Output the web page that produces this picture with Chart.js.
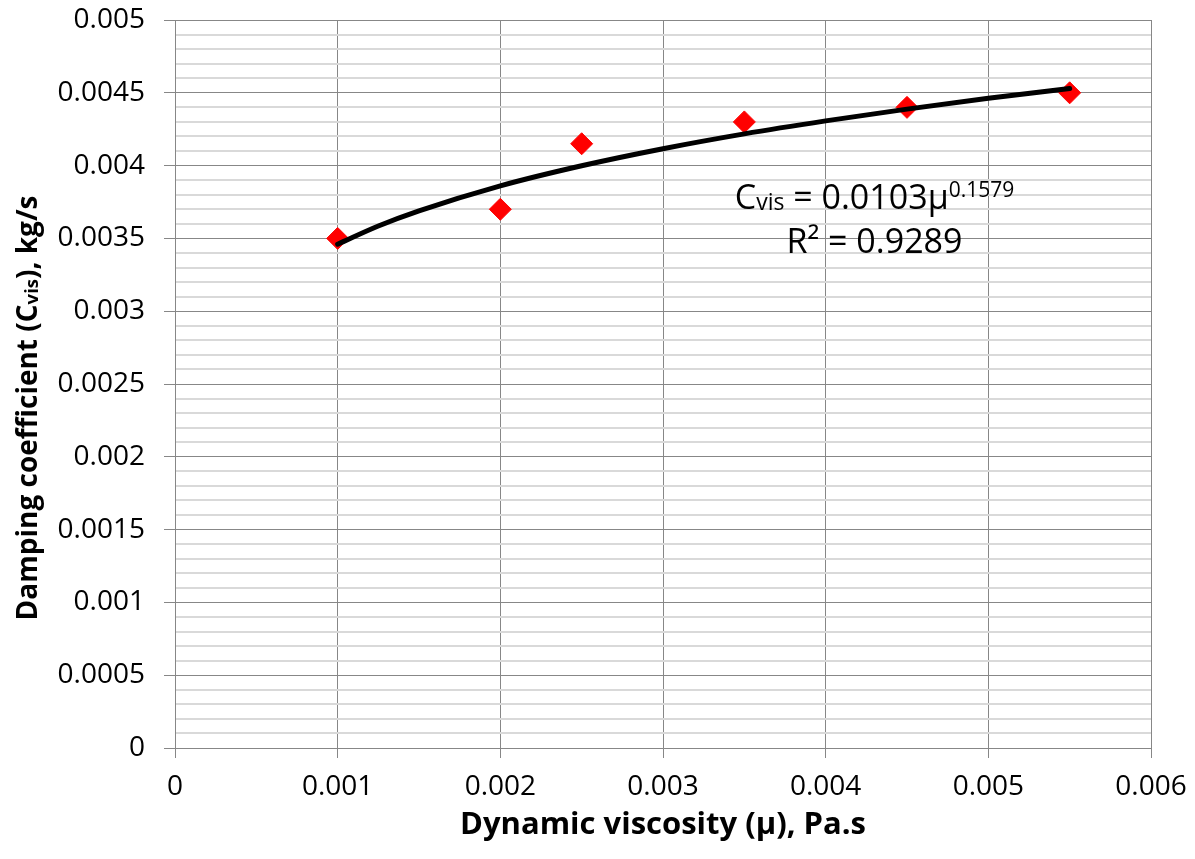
<!DOCTYPE html>
<html>
<head>
<meta charset="utf-8">
<script src="https://cdn.jsdelivr.net/npm/chart.js@4.4.1/dist/chart.umd.min.js"></script>
<style>
  html, body { margin: 0; padding: 0; background: #ffffff; }
  #wrap { width: 1195px; height: 859px; }
</style>
</head>
<body>
<div id="wrap"><canvas id="c" width="1195" height="859"></canvas></div>
<script>
// Measured data points: dynamic viscosity (Pa.s) vs damping coefficient (kg/s)
const viscosity = [0.001, 0.002, 0.0025, 0.0035, 0.0045, 0.0055];
const damping   = [0.0035, 0.0037, 0.00415, 0.0043, 0.0044, 0.0045];

// Power trendline (Cvis = 0.0103 μ^0.1579)
const trendX = [0.001, 0.00125, 0.0015, 0.002, 0.0025, 0.003, 0.0035, 0.004, 0.0045, 0.005, 0.0055];
const trendY = [0.00346, 0.003585, 0.003689, 0.003861, 0.003999, 0.004116, 0.004218, 0.004307, 0.004388, 0.004462, 0.00453];

// Axis ticks
const xTicks = [0, 0.001, 0.002, 0.003, 0.004, 0.005, 0.006];
const yTicks = [0, 0.0005, 0.001, 0.0015, 0.002, 0.0025, 0.003, 0.0035, 0.004, 0.0045, 0.005];

const xTitle = 'Dynamic viscosity (μ), Pa.s';
const yTitleParts = [['Damping coefficient (C', 'n'], ['vis', 's'], ['), kg/s', 'n']];
const eqLine1 = [['C', 'n'], ['vis', 's'], [' = 0.0103μ', 'n'], ['0.1579', 'p']];
const eqLine2 = [['R² = 0.9289', 'n']];

const FONT = "'Open Sans', 'Liberation Sans', sans-serif";

function isMajorY(v) {
  const r = v / 0.0005;
  return Math.abs(r - Math.round(r)) < 1e-6;
}

function fmt(v) {
  const r = Math.round(v * 1e5) / 1e5;
  return String(r);
}

const textPlugin = {
  id: 'textPlugin',
  afterDraw(chart) {
    const ctx = chart.ctx;
    const xs = chart.scales.x, ys = chart.scales.y;

    function drawParts(parts, x, y, sizes, bold) {
      let total = 0;
      parts.forEach(p => {
        ctx.font = (bold ? 'bold ' : '') + sizes[p[1]] + 'px ' + FONT;
        total += ctx.measureText(p[0]).width;
      });
      let cx = x - total / 2;
      parts.forEach(p => {
        ctx.font = (bold ? 'bold ' : '') + sizes[p[1]] + 'px ' + FONT;
        let dy = 0;
        if (p[1] === 'p') dy = -sizes.n * 0.36;
        if (p[1] === 's') dy = sizes.n * 0.02;
        ctx.fillText(p[0], cx, y + dy);
        cx += ctx.measureText(p[0]).width;
      });
    }

    ctx.save();
    ctx.fillStyle = '#000000';
    ctx.textBaseline = 'alphabetic';
    ctx.textAlign = 'left';

    // Equation annotation (anchored in data space)
    const ax = xs.getPixelForValue(0.0043);
    const ay1 = ys.getPixelForValue(0.0037);
    const ay2 = ys.getPixelForValue(0.0034);
    drawParts(eqLine1, ax, ay1, { n: 34, s: 23, p: 21 }, false);
    drawParts(eqLine2, ax, ay2, { n: 34, s: 23, p: 21 }, false);

    // Rotated y-axis title
    ctx.save();
    const midY = (ys.top + ys.bottom) / 2 + 24;
    ctx.translate(37, midY);
    ctx.rotate(-Math.PI / 2);
    drawParts(yTitleParts, 0, 0, { n: 28, s: 18.5, p: 18.5 }, true);
    ctx.restore();

    ctx.restore();
  }
};

new Chart(document.getElementById('c'), {
  type: 'scatter',
  data: {
    datasets: [
      {
        type: 'line',
        label: 'Trend',
        data: trendX.map((x, i) => ({ x: x, y: trendY[i] })),
        borderColor: '#000000',
        borderWidth: 5,
        pointRadius: 0,
        fill: false,
        tension: 0.4,
        cubicInterpolationMode: 'monotone',
        borderCapStyle: 'round'
      },
      {
        label: 'Data',
        data: viscosity.map((x, i) => ({ x: x, y: damping[i] })),
        pointStyle: 'rectRot',
        pointRadius: 11,
        pointHoverRadius: 11,
        backgroundColor: '#ff0000',
        borderColor: '#ff0000',
        borderWidth: 1,
        showLine: false
      }
    ]
  },
  options: {
    responsive: false,
    animation: false,
    events: [],
    layout: { padding: { left: 0, right: 44, top: 20, bottom: 0 } },
    plugins: {
      legend: { display: false },
      tooltip: { enabled: false },
      title: { display: false }
    },
    scales: {
      x: {
        type: 'linear',
        min: 0,
        max: 0.006,
        afterBuildTicks(scale) { scale.ticks = xTicks.map(v => ({ value: v })); },
        afterFit(scale) {
          scale.height = 111;
          scale.paddingLeft = 0;
          scale.paddingRight = 0;
        },
        ticks: {
          autoSkip: false,
          padding: 12,
          color: '#000000',
          font: { family: FONT, size: 28 },
          callback: (v) => fmt(v)
        },
        grid: {
          color: '#878787',
          lineWidth: 1,
          tickLength: 10,
          tickColor: '#878787'
        },
        border: { color: '#878787', width: 1 },
        title: {
          display: true,
          text: xTitle,
          color: '#000000',
          font: { family: FONT, size: 31, weight: 'bold' },
          padding: { top: 0, bottom: 15 }
        }
      },
      y: {
        type: 'linear',
        min: 0,
        max: 0.005,
        afterBuildTicks(scale) {
          const t = [];
          for (let i = 0; i <= 50; i++) t.push({ value: i / 10000 });
          scale.ticks = t;
        },
        afterFit(scale) {
          scale.width = 175;
          scale.paddingTop = 0;
          scale.paddingBottom = 0;
        },
        ticks: {
          autoSkip: false,
          padding: 19,
          color: '#000000',
          font: { family: FONT, size: 28 },
          callback: (v) => (isMajorY(v) && yTicks.some(t => Math.abs(t - v) < 1e-9)) ? fmt(v) : ''
        },
        grid: {
          color: (ctx) => (ctx.tick && isMajorY(ctx.tick.value)) ? '#878787' : '#d9d9d9',
          lineWidth: (ctx) => (ctx.tick && isMajorY(ctx.tick.value)) ? 1 : 2,
          tickLength: 11,
          tickColor: (ctx) => (ctx.tick && isMajorY(ctx.tick.value)) ? '#878787' : 'rgba(0,0,0,0)'
        },
        border: { color: '#878787', width: 1 }
      }
    }
  },
  plugins: [textPlugin]
});
</script>
</body>
</html>
